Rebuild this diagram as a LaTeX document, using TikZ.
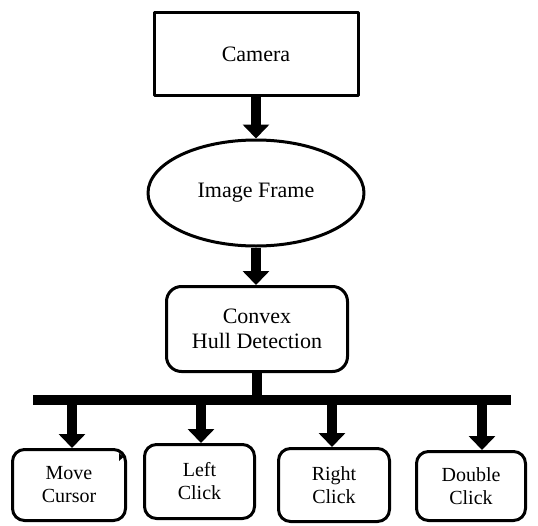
\documentclass[tikz,border=0pt]{standalone}
\usepackage{fontspec}
\setmainfont{Liberation Serif}
\usetikzlibrary{arrows.meta,shapes.geometric}

\begin{document}
\begin{tikzpicture}[x=1pt, y=-1pt, line join=round,
    box/.style={draw, line width=3pt, align=center, inner sep=0pt},
    bigtext/.style={font=\fontsize{22}{25}\selectfont},
    smalltext/.style={font=\fontsize{20}{23}\selectfont, rounded corners=12pt},
    fatarrow/.style={line width=10.5pt, -{Triangle[width=26pt,length=14pt]}},
    fatline/.style={line width=10pt}]

  % ---- Canvas ----
  \useasboundingbox (0,0) rectangle (538,525);

  % Parameters
  \def\yBar{400}   % height of the branching bar
  \def\hBar{5}     % half thickness of the bar

  % ---- Top chain ----
  \node[box, bigtext, minimum width=204pt, minimum height=83pt]
    (camera) at (256,54) {Camera};
  \node[box, bigtext, ellipse, minimum width=216pt, minimum height=106pt]
    (frame) at (256,193) {Image Frame};
  \node[box, bigtext, rounded corners=15pt, minimum width=181pt, minimum height=85pt]
    (hull) at (257,329) {Convex\\Hull Detection};

  \draw[fatarrow] (camera.south) -- (frame.north);
  \draw[fatarrow] (frame.south) -- (frame.south |- hull.north);

  % ---- Actions ----
  \node[box, smalltext, minimum width=113pt, minimum height=71pt]
    (move) at (69,485) {Move\\Cursor};
  \node[box, smalltext, minimum width=110pt, minimum height=74pt]
    (left) at (199.5,481.5) {Left\\Click};
  \node[box, smalltext, minimum width=111pt, minimum height=73pt]
    (right) at (334,485) {Right\\Click};
  \node[box, smalltext, minimum width=109pt, minimum height=69pt]
    (double) at (471,486) {Double\\Click};

  % small pointer mark in the corner of the first box
  \fill (119,453) -- (123.5,457) -- (119,461) -- cycle;

  % ---- Branching bar ----
  \coordinate (barL) at (33,\yBar);
  \coordinate (barR) at (511,\yBar);
  \draw[fatline] (hull.south) -- (hull.south |- barL);
  \draw[fatline] (barL) -- (barR);

  \foreach \nm/\xx in {move/72, left/201, right/332, double/482}{
    \coordinate (tap-\nm) at (\xx,\yBar+\hBar);
    \draw[fatarrow] (tap-\nm) -- (tap-\nm |- \nm.north);
  }

\end{tikzpicture}
\end{document}
